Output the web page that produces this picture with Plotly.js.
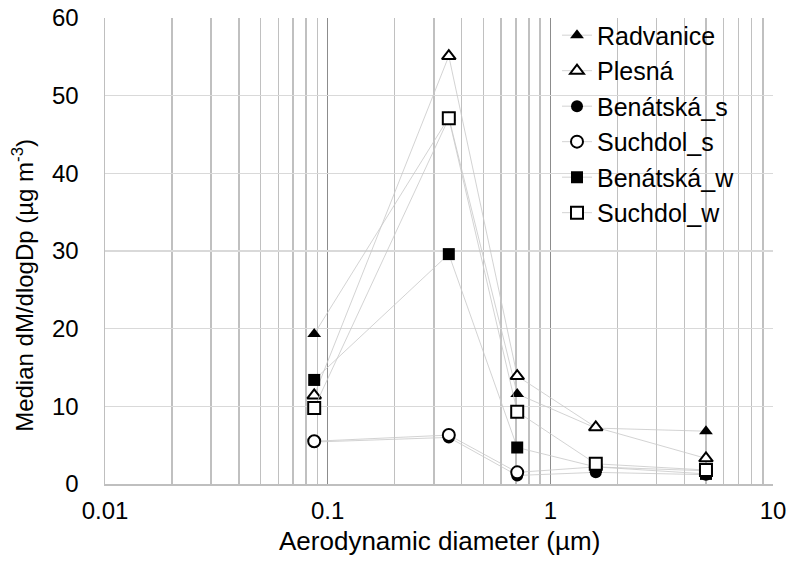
<!DOCTYPE html>
<html><head><meta charset="utf-8">
<script src="https://cdn.plot.ly/plotly-3.0.1.min.js"></script>
<style>html,body{margin:0;padding:0;background:#fff}#chart{width:792px;height:562px}</style>
</head><body><div id="chart"></div>
<script>
// Data
const diameters = [0.087, 0.35, 0.71, 1.6, 5.0];
const radvanice  = [19.3, 47.2, 11.6, 7.2, 6.8];
const plesna     = [11.4, 55.1, 13.9, 7.3, 3.3];
const benatskaS  = [5.4, 6.0, 1.1, 1.5, 1.2];
const suchdolS   = [5.5, 6.3, 1.5, 2.2, 1.7];
const benatskaW  = [13.4, 29.6, 4.7, 2.2, 1.3];
const suchdolW   = [9.8, 47.1, 9.3, 2.6, 1.8];
const seriesNames = ['Radvanice', 'Plesná', 'Benátská_s', 'Suchdol_s', 'Benátská_w', 'Suchdol_w'];
const xTickVals = [0.01, 0.1, 1, 10];
const xTickText = ['0.01', '0.1', '1', '10'];
const yTickVals = [0, 10, 20, 30, 40, 50, 60];
const xTitle = 'Aerodynamic diameter (µm)';
const yTitle = 'Median dM/dlogDp (µg m<sup>-3</sup>)';

const seriesValues = [radvanice, plesna, benatskaS, suchdolS, benatskaW, suchdolW];
const symbols = ['triangle-up', 'triangle-up-open', 'circle', 'circle-open', 'square', 'square-open'];

const traces = seriesValues.map((vals, i) => {
  const open = symbols[i].endsWith('open');
  return {
    type: 'scatter', mode: 'lines+markers',
    name: seriesNames[i],
    x: diameters, y: vals,
    cliponaxis: false,
    line: {color: '#c8c8c8', width: 0.8},
    marker: {
      symbol: open ? symbols[i].replace('-open', '') : symbols[i],
      size: 12,
      color: open ? '#ffffff' : '#000000',
      line: {color: '#000000', width: open ? 2 : 0}
    }
  };
});

const fam = '"Liberation Sans", Arial, sans-serif';
const tickFont = {family: fam, size: 24, color: '#000'};
const xTitleFont = {family: fam, size: 26, color: '#000'};
const yTitleFont = {family: fam, size: 24, color: '#000'};
const legendFont = {family: fam, size: 25, color: '#000'};

const layout = {
  width: 792, height: 562,
  margin: {l: 105, r: 19, t: 16, b: 78},
  paper_bgcolor: '#fff', plot_bgcolor: '#fff',
  font: tickFont,
  showlegend: true,
  legend: {
    x: (557 - 105) / 668, y: 1.012, yanchor: 'top', xanchor: 'left',
    xref: 'paper', yref: 'paper',
    bgcolor: 'rgba(0,0,0,0)', borderwidth: 0,
    font: legendFont, itemwidth: 30
  },
  xaxis: {
    type: 'log', range: [-2, 1],
    tickvals: xTickVals, ticktext: xTickText,
    showgrid: true, gridcolor: '#8c8c8c', gridwidth: 1.5,
    minor: {dtick: 'D1', showgrid: true, gridcolor: '#c0c0c0', gridwidth: 1.5, ticks: ''},
    showline: true, linecolor: '#bfbfbf', linewidth: 1.5,
    zeroline: false, ticks: '',
    ticklabelstandoff: 5,
    tickfont: tickFont
  },
  yaxis: {
    range: [0, 60], tickvals: yTickVals,
    showgrid: true, gridcolor: '#d9d9d9', gridwidth: 1.5,
    showline: true, linecolor: '#bfbfbf', linewidth: 1.5,
    zeroline: false, ticks: '',
    ticklabelstandoff: 20,
    tickfont: tickFont
  },
  annotations: [{
    text: yTitle, textangle: -90, font: yTitleFont,
    xref: 'paper', yref: 'paper', x: 0, xanchor: 'center', xshift: -82,
    y: (484 - 285) / 468, yanchor: 'middle', showarrow: false
  }, {
    text: xTitle, font: xTitleFont,
    xref: 'paper', yref: 'paper', x: 0.5, xanchor: 'center',
    y: -(541 - 484) / 468, yanchor: 'middle', showarrow: false
  }]
};

Plotly.newPlot('chart', traces, layout, {displayModeBar: false, staticPlot: true});
</script></body></html>
